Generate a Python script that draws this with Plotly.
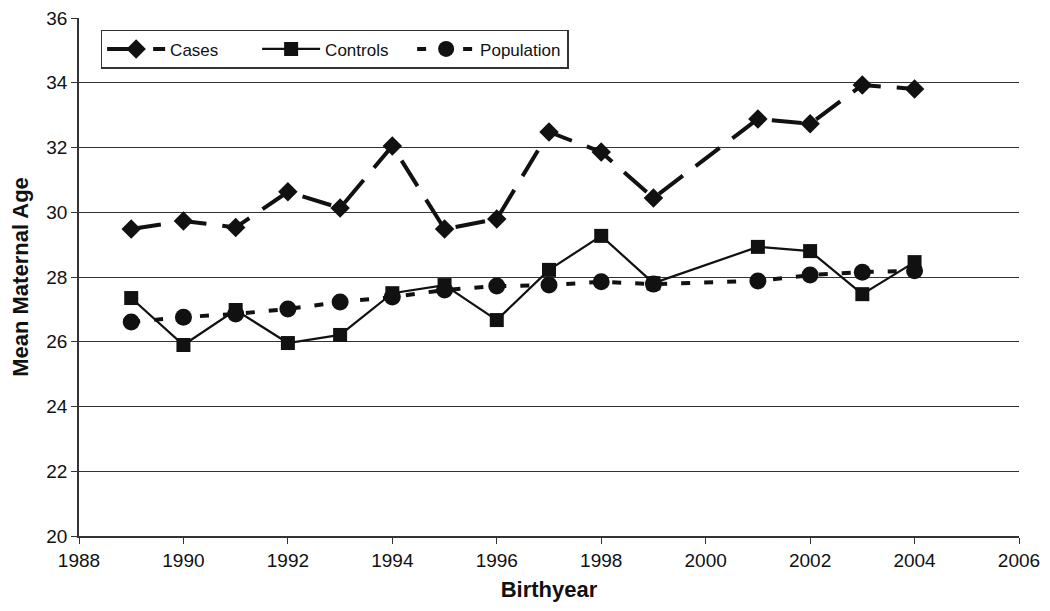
import plotly.graph_objects as go

years = [1989, 1990, 1991, 1992, 1993, 1994, 1995, 1996, 1997, 1998, 1999, 2001, 2002, 2003, 2004]
cases = [29.48, 29.73, 29.53, 30.63, 30.13, 32.05, 29.48, 29.79, 32.48, 31.86, 30.44, 32.88, 32.73, 33.93, 33.81]
controls = [27.35, 25.9, 26.98, 25.96, 26.21, 27.5, 27.75, 26.67, 28.22, 29.27, 27.81, 28.93, 28.8, 27.47, 28.46]
population = [26.61, 26.76, 26.86, 27.01, 27.23, 27.38, 27.6, 27.72, 27.75, 27.85, 27.78, 27.88, 28.06, 28.15, 28.19]

x_ticks = list(range(1988, 2007, 2))
y_ticks = list(range(20, 37, 2))

fig = go.Figure()
fig.add_trace(go.Scatter(
    x=years, y=cases, name="Cases", mode="lines+markers",
    line=dict(color="#111111", width=4, dash="30px,16px"),
    marker=dict(symbol="diamond", size=15, color="#111111"),
))
fig.add_trace(go.Scatter(
    x=years, y=controls, name="Controls", mode="lines+markers",
    line=dict(color="#111111", width=2.2),
    marker=dict(symbol="square", size=14, color="#111111"),
))
fig.add_trace(go.Scatter(
    x=years, y=population, name="Population", mode="lines+markers",
    line=dict(color="#111111", width=4, dash="9px,14px"),
    marker=dict(symbol="circle", size=17, color="#111111"),
))

fig.update_layout(
    width=1050, height=611,
    margin=dict(l=79, r=31, t=18, b=75),
    paper_bgcolor="white", plot_bgcolor="white",
    font=dict(family="Liberation Sans, Arial, sans-serif", size=19, color="#111111"),
    showlegend=True,
    legend=dict(
        orientation="h", x=0.023, y=0.977, xanchor="left", yanchor="top",
        bordercolor="#333333", borderwidth=1.5, bgcolor="white",
        font=dict(size=17), entrywidth=82, itemwidth=58,
    ),
    xaxis=dict(
        range=[1988, 2006], tickvals=x_ticks, ticktext=[str(v) for v in x_ticks],
        showgrid=False, zeroline=False, showline=True, linecolor="#333333", linewidth=1.5,
        ticks="outside", ticklen=6, tickcolor="#333333", automargin=False,
        tickfont=dict(size=19),
        title=dict(text="<b>Birthyear</b>", font=dict(size=22), standoff=12),
    ),
    yaxis=dict(
        range=[20, 36], tickvals=y_ticks, ticktext=[str(v) for v in y_ticks],
        showgrid=True, gridcolor="#333333", gridwidth=1.2, zeroline=False,
        showline=True, linecolor="#333333", linewidth=1.5,
        ticks="outside", ticklen=6, tickcolor="#333333", automargin=False,
        tickfont=dict(size=19),
        title=dict(text="<b>Mean Maternal Age</b>", font=dict(size=22), standoff=12),
    ),
)

fig.write_html("out.html", config={"displayModeBar": False},
               post_script="document.body.style.margin='0';")
